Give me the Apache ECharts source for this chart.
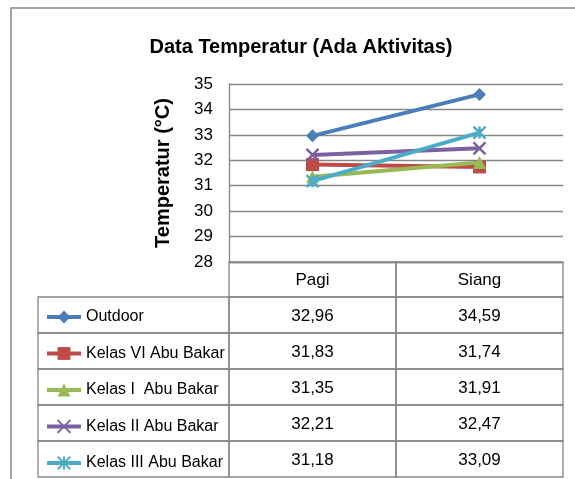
<!DOCTYPE html>
<html>
<head>
<meta charset="utf-8">
<script src="https://cdn.jsdelivr.net/npm/echarts@6/dist/echarts.min.js"></script>
<style>
  html, body { margin: 0; padding: 0; background: #fff; }
  #chart { width: 575px; height: 479px; }
</style>
</head>
<body>
<div id="chart"></div>
<script>
// Data
const categories = ['Pagi', 'Siang'];
const seriesNames = ['Outdoor', 'Kelas VI Abu Bakar', 'Kelas I  Abu Bakar', 'Kelas II Abu Bakar', 'Kelas III Abu Bakar'];
const outdoor = [32.96, 34.59];
const kelasVI = [31.83, 31.74];
const kelasI = [31.35, 31.91];
const kelasII = [32.21, 32.47];
const kelasIII = [31.18, 33.09];
const yMin = 28;
const yMax = 35;

const allValues = [outdoor, kelasVI, kelasI, kelasII, kelasIII];

// Styles
const colors = ['#4A7EBB', '#BE4B48', '#98B954', '#7D60A0', '#4BACC6'];
const X_PATH = 'path://M0,0L10,10M10,0L0,10';
const STAR_PATH = 'path://M5,0L5,10M0,0L10,10M10,0L0,10';
const symbols = ['diamond', 'rect', 'triangle', X_PATH, STAR_PATH];
const GRID = '#868686';
const FONT = "'Liberation Sans', Arial, sans-serif";
const TABLE_LEFT = 38;
const HEAD_H = 35;
const ROW_H = 36;

const fmt = v => v.toFixed(2).replace('.', ',');

const chart = echarts.init(document.getElementById('chart'));

const lineSeries = seriesNames.map((name, i) => ({
    type: 'line',
    name: name,
    data: allValues[i],
    symbol: symbols[i],
    symbolSize: i >= 3 ? 12 : 13,
    lineStyle: { width: 4, color: colors[i] },
    itemStyle: { color: colors[i], borderColor: colors[i], borderWidth: i >= 3 ? 2.5 : 0 },
    z: 3 + i
}));

// data table under the plot
const tableSeries = {
    type: 'custom',
    silent: true,
    z: 1,
    data: [-1, 0, 1, 2, 3, 4].map(r => [0, yMin, r]),
    encode: { x: 0, y: 1 },
    renderItem: (params, api) => {
        const r = api.value(2);
        const base = api.coord([0, yMin]);
        const bw = api.size([1, 0])[0];
        const plotLeft = base[0] - bw / 2;
        const cellStyle = { stroke: GRID, lineWidth: 1.3, fill: null };
        const children = [];
        if (r < 0) {
            categories.forEach((c, j) => {
                children.push({
                    type: 'rect',
                    shape: { x: plotLeft + j * bw, y: base[1], width: bw, height: HEAD_H },
                    style: cellStyle
                });
            });
        } else {
            const y = base[1] + HEAD_H + r * ROW_H;
            children.push({
                type: 'rect',
                shape: { x: TABLE_LEFT, y: y, width: plotLeft - TABLE_LEFT, height: ROW_H },
                style: cellStyle
            });
            categories.forEach((c, j) => {
                children.push({
                    type: 'rect',
                    shape: { x: plotLeft + j * bw, y: y, width: bw, height: ROW_H },
                    style: cellStyle
                });
                children.push({
                    type: 'text',
                    style: {
                        x: plotLeft + j * bw + bw / 2,
                        y: y + ROW_H / 2 + 1,
                        text: fmt(allValues[r][j]),
                        align: 'center',
                        verticalAlign: 'middle',
                        fill: '#000',
                        font: '17px ' + FONT
                    }
                });
            });
        }
        return { type: 'group', children: children };
    }
};

const option = {
    animation: false,
    backgroundColor: '#fff',
    title: {
        text: 'Data Temperatur (Ada Aktivitas)',
        left: 296,
        top: 32,
        textAlign: 'center',
        textStyle: { fontFamily: FONT, fontSize: 20, fontWeight: 'bold', color: '#000' }
    },
    graphic: [{
        type: 'rect',
        shape: { x: 11, y: 8, width: 700, height: 600 },
        style: { stroke: GRID, lineWidth: 1.5, fill: null },
        silent: true
    }],
    legend: {
        orient: 'vertical',
        left: 40,
        top: 303,
        height: 200,
        itemWidth: 34,
        itemHeight: 16,
        itemGap: 18.5,
        selectedMode: false,
        data: seriesNames,
        lineStyle: { width: 4 },
        textStyle: { fontFamily: FONT, fontSize: 16, lineHeight: 18, color: '#000' }
    },
    grid: { left: 229, right: 12, top: 84, bottom: 217 },
    xAxis: {
        type: 'category',
        data: categories,
        boundaryGap: true,
        axisLine: { show: true, lineStyle: { color: GRID, width: 1.3 } },
        axisTick: { show: false },
        axisLabel: { margin: 10, color: '#000', fontFamily: FONT, fontSize: 17 },
        splitLine: { show: false }
    },
    yAxis: {
        type: 'value',
        min: yMin,
        max: yMax,
        interval: 1,
        name: 'Temperatur (°C)',
        nameLocation: 'middle',
        nameGap: 56,
        nameTextStyle: { fontFamily: FONT, fontSize: 20, fontWeight: 'bold', color: '#000' },
        axisLine: { show: true, lineStyle: { color: GRID, width: 1.3 } },
        axisTick: { show: false },
        axisLabel: { margin: 16, color: '#000', fontFamily: FONT, fontSize: 17 },
        splitLine: { show: true, lineStyle: { color: GRID, width: 1.3 } }
    },
    series: [tableSeries].concat(lineSeries)
};

chart.setOption(option);
</script>
</body>
</html>
